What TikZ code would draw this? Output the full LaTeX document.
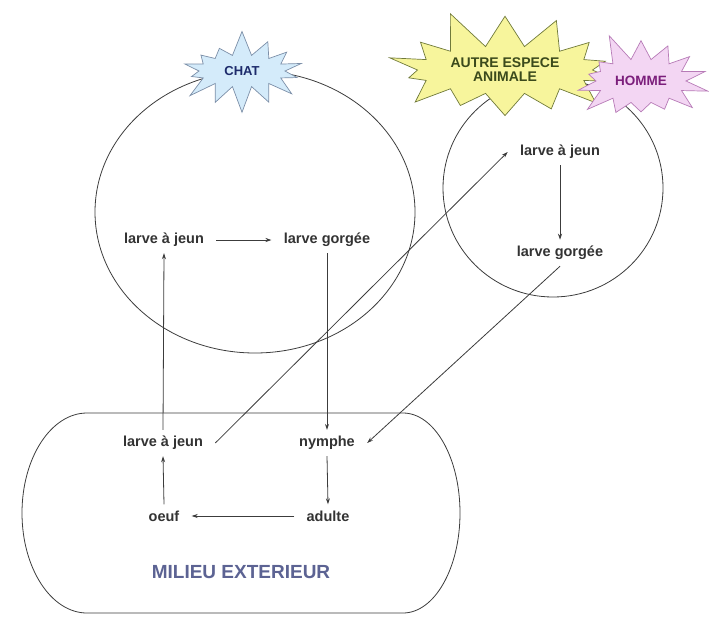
\documentclass[tikz,border=0pt]{standalone}
\usepackage{fontspec}
\setmainfont{Liberation Sans}
\usetikzlibrary{shapes.symbols,arrows.meta}

\definecolor{trait}{HTML}{3C3C3C}
\definecolor{chatfond}{HTML}{D4EBFA}
\definecolor{chatbord}{HTML}{7C8FA8}
\definecolor{chattexte}{HTML}{1D2B6B}
\definecolor{autrefond}{HTML}{F7F59C}
\definecolor{autrebord}{HTML}{707A3A}
\definecolor{autretexte}{HTML}{3B4A1C}
\definecolor{hommefond}{HTML}{F3D6F3}
\definecolor{hommebord}{HTML}{B77BB7}
\definecolor{hommetexte}{HTML}{7B1E7B}
\definecolor{milieu}{HTML}{5C6393}

\begin{document}
\begin{tikzpicture}
  [x=1pt,y=-1pt,line width=0.8pt,draw=trait,
   every node/.style={font=\bfseries\fontsize{14.5}{16}\selectfont,text=black!80,
     inner xsep=12pt,inner ysep=6pt},
   burst/.style={starburst,starburst points=14,line width=0.7pt,inner sep=0pt,align=center},
   fleche/.style={-{Stealth[length=6pt,width=4pt]},trait}]
  \useasboundingbox (0,0) rectangle (709,629);
  % hotes et milieu exterieur
  \draw[trait] (255,212) ellipse (160 and 141);
  \draw[trait] (553,188) ellipse (110 and 109);
  \draw[trait] (87,413) -- (403,413) arc (-90:90:57 and 100) -- (87,613)
    arc (90:270:65 and 100);
  \node[text=milieu,font=\bfseries\fontsize{19}{21}\selectfont] (mil) at (241,572) {MILIEU EXTERIEUR};
  % etiquettes
  \node[burst,fill=chatfond,draw=chatbord,text=chattexte,minimum width=138pt,minimum height=84pt,
    starburst point height=26pt,random starburst=7,font=\bfseries\fontsize{13}{15}\selectfont]
    (chat) at (242,71) {CHAT};
  \node[burst,fill=autrefond,draw=autrebord,text=autretexte,minimum width=255pt,minimum height=128pt,
    starburst point height=40pt,random starburst=11,font=\bfseries\fontsize{14}{14}\selectfont]
    (autre) at (505,70) {AUTRE ESPECE\\ANIMALE};
  \node[burst,fill=hommefond,draw=hommebord,text=hommetexte,minimum width=150pt,minimum height=104pt,
    starburst point height=30pt,random starburst=5,font=\bfseries\fontsize{13.5}{15}\selectfont]
    (homme) at (641,81) {HOMME};
  % stades
  \node (lj1) at (164,240) {larve à jeun};
  \node (lg1) at (327,240) {larve gorgée};
  \node (lj2) at (560,152) {larve à jeun};
  \node (lg2) at (560,253) {larve gorgée};
  \node (lj0) at (163,443) {larve à jeun};
  \node (ny) at (327,443) {nymphe};
  \node (oe) at (164,516) {oeuf};
  \node (ad) at (328,516) {adulte};
  \foreach \from/\to in {lj1.east/lg1.west,lg1.south/ny.north,ny.south/ad.north,
      ad.west/oe.east,oe.north/lj0.south,lj0.north/lj1.south,lj0.east/lj2.west,
      lj2.south/lg2.north,lg2.south/ny.east}
    \draw[fleche] (\from) -- (\to);
\end{tikzpicture}
\end{document}
